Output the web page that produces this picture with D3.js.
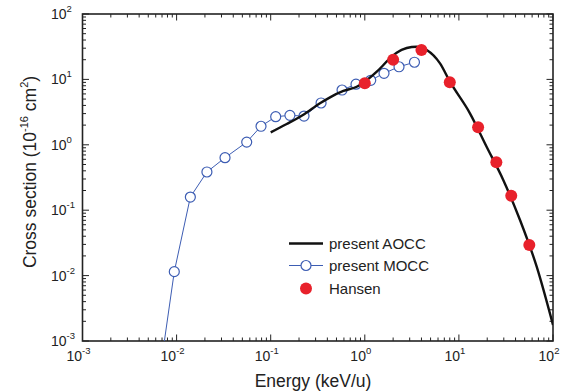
<!DOCTYPE html>
<html><head><meta charset="utf-8">
<script src="https://cdn.jsdelivr.net/npm/d3@7"></script>
<style>body{margin:0;background:#fff}svg{display:block}text{font-family:"Liberation Sans",Arial,sans-serif;fill:#222}</style>
</head><body>
<script>
// ---- data ----
const moccE = [0.0059, 0.00945, 0.0140, 0.0210, 0.0327, 0.0556, 0.0789, 0.113, 0.160, 0.226, 0.343, 0.573, 0.806, 1.156, 1.60, 2.31, 3.37];
const moccS = [0.0001, 0.0115, 0.159, 0.384, 0.635, 1.10, 1.92, 2.69, 2.82, 2.75, 4.36, 6.88, 8.45, 9.69, 12.4, 15.6, 18.3];
const moccMarker = [false, true, true, true, true, true, true, true, true, true, true, true, true, true, true, true, true];
const aoccE = [0.1, 0.148, 0.22, 0.334, 0.427, 0.592, 0.82, 1.0, 1.34, 1.78, 2.18, 2.79, 3.56, 4.55, 6.30, 8.04, 13.1, 19.7, 29.6, 44.6, 67.1, 100];
const aoccS = [1.55, 2.08, 2.86, 4.31, 5.32, 6.65, 7.73, 9.22, 13.1, 19.8, 25.6, 30.2, 31.6, 28.2, 17.6, 9.22, 3.03, 0.935, 0.290, 0.0708, 0.0137, 0.00176];
const hansenE = [1.0, 2.0, 4.0, 8.0, 16.0, 25.0, 36.0, 56.0];
const hansenS = [8.7, 20.0, 28.2, 9.03, 1.85, 0.54, 0.167, 0.0294];
const xTicks = [-3, -2, -1, 0, 1, 2];
const yTicks = [-3, -2, -1, 0, 1, 2];
const legendLabels = ["present AOCC", "present MOCC", "Hansen"];

const W = 565, H = 392;
const L = 82.5, R = 553, T = 14, B = 341;
const blue = "#3d5db3", red = "#e8212b";

const svg = d3.select("body").append("svg").attr("width", W).attr("height", H);
const x = d3.scaleLog().domain([1e-3, 1e2]).range([L, R]);
const y = d3.scaleLog().domain([1e-3, 1e2]).range([B, T]);

svg.append("clipPath").attr("id", "clip").append("rect")
  .attr("x", L).attr("y", T).attr("width", R - L).attr("height", B - T);

// minor/major ticks
const minors = [];
for (let d = -3; d < 2; d++) for (let k = 2; k <= 9; k++) minors.push(k * Math.pow(10, d));
const majors = xTicks.map(p => Math.pow(10, p));
const tk = svg.append("g").attr("stroke", "#222").attr("stroke-width", 1);
function ticks(vals, len) {
  vals.forEach(v => {
    const px = x(v), py = y(v);
    tk.append("line").attr("x1", px).attr("x2", px).attr("y1", B).attr("y2", B - len);
    tk.append("line").attr("x1", px).attr("x2", px).attr("y1", T).attr("y2", T + len);
    tk.append("line").attr("y1", py).attr("y2", py).attr("x1", L).attr("x2", L + len);
    tk.append("line").attr("y1", py).attr("y2", py).attr("x1", R).attr("x2", R - len);
  });
}
ticks(minors, 3.5);
ticks(majors, 6.5);

svg.append("rect").attr("x", L).attr("y", T).attr("width", R - L).attr("height", B - T)
  .attr("fill", "none").attr("stroke", "#222").attr("stroke-width", 1.6);

// tick labels
xTicks.forEach(p => {
  const t = svg.append("text").attr("x", x(Math.pow(10, p)) - 4).attr("y", 361)
    .attr("text-anchor", "middle").style("font-size", "14px");
  t.append("tspan").text("10");
  t.append("tspan").attr("dy", -7).style("font-size", "9.5px").text(String(p));
});
yTicks.forEach(p => {
  const t = svg.append("text").attr("x", L - 16).attr("y", y(Math.pow(10, p)) + 5)
    .attr("text-anchor", "end").style("font-size", "14px");
  t.text("10");
  svg.append("text").attr("x", L - 16).attr("y", y(Math.pow(10, p)) - 2)
    .attr("text-anchor", "start").style("font-size", "9.5px").text(String(p));
});

// axis titles
svg.append("text").attr("x", 313).attr("y", 387).attr("text-anchor", "middle")
  .style("font-size", "17.5px").text("Energy (keV/u)");
const yt = svg.append("text").attr("transform", "translate(36,172) rotate(-90)")
  .attr("text-anchor", "middle").style("font-size", "17.5px");
yt.append("tspan").text("Cross section (10");
yt.append("tspan").attr("dy", -8).style("font-size", "11px").text("-16");
yt.append("tspan").attr("dy", 8).text(" cm");
yt.append("tspan").attr("dy", -8).style("font-size", "11px").text("2");
yt.append("tspan").attr("dy", 8).text(")");

// data
const plot = svg.append("g").attr("clip-path", "url(#clip)");
const mocc = moccE.map((e, i) => ({ e, s: moccS[i], m: moccMarker[i] }));
plot.append("path").datum(mocc)
  .attr("d", d3.line().x(d => x(d.e)).y(d => y(d.s)))
  .attr("fill", "none").attr("stroke", blue).attr("stroke-width", 1);
plot.selectAll("circle.m").data(mocc.filter(d => d.m)).join("circle")
  .attr("cx", d => x(d.e)).attr("cy", d => y(d.s)).attr("r", 5)
  .attr("fill", "#fff").attr("stroke", blue).attr("stroke-width", 1.2);

const aocc = aoccE.map((e, i) => ({ e, s: aoccS[i] }));
plot.append("path").datum(aocc)
  .attr("d", d3.line().x(d => x(d.e)).y(d => y(d.s)).curve(d3.curveMonotoneX))
  .attr("fill", "none").attr("stroke", "#111").attr("stroke-width", 2.4);

plot.selectAll("circle.h").data(hansenE.map((e, i) => ({ e, s: hansenS[i] }))).join("circle")
  .attr("cx", d => x(d.e)).attr("cy", d => y(d.s)).attr("r", 6)
  .attr("fill", red);

// legend
const lg = svg.append("g");
const ly = [243.5, 265.5, 288.5];
lg.append("line").attr("x1", 289).attr("x2", 323).attr("y1", ly[0]).attr("y2", ly[0])
  .attr("stroke", "#111").attr("stroke-width", 2.4);
lg.append("line").attr("x1", 289).attr("x2", 323).attr("y1", ly[1]).attr("y2", ly[1])
  .attr("stroke", blue).attr("stroke-width", 1);
lg.append("circle").attr("cx", 306).attr("cy", ly[1]).attr("r", 5)
  .attr("fill", "#fff").attr("stroke", blue).attr("stroke-width", 1.2);
lg.append("circle").attr("cx", 306).attr("cy", ly[2]).attr("r", 6).attr("fill", red);
legendLabels.forEach((t, i) => {
  lg.append("text").attr("x", 329).attr("y", ly[i] + 5.5).style("font-size", "15px").text(t);
});
</script>
</body></html>
